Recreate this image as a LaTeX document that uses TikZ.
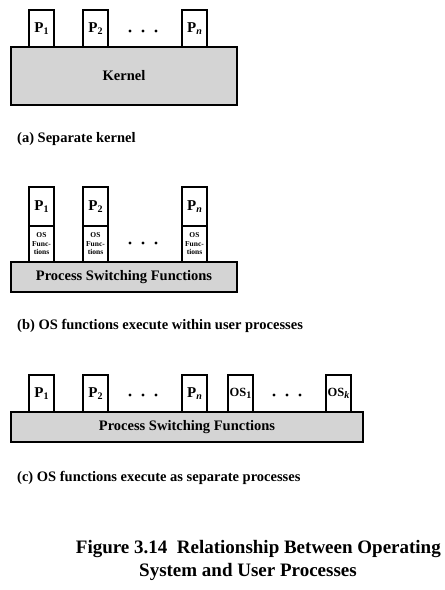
\documentclass[tikz,border=0pt]{standalone}
\usepackage{fontspec}
\setmainfont{Liberation Serif}
\newcommand{\psub}[1]{\raisebox{-0.35ex}{\fontsize{10}{10}\selectfont #1}}
\begin{document}
\begin{tikzpicture}[x=1pt,y=-1pt,
 pbox/.style={draw, line width=1.3pt, fill=white, minimum width=25pt, inner sep=0pt, font=\fontsize{15}{15}\selectfont\bfseries},
 osbox/.style={pbox, font=\fontsize{12.5}{13}\selectfont\bfseries},
 basebox/.style={draw, line width=2pt, fill=black!17, inner sep=0pt, font=\fontsize{14.5}{15}\selectfont\bfseries},
 osfun/.style={draw, line width=1.3pt, fill=white, minimum width=25pt, minimum height=36pt, inner sep=0pt, align=center, font=\fontsize{7.5}{8.5}\selectfont\bfseries},
 captext/.style={anchor=west, inner sep=0pt, font=\fontsize{14.5}{15}\selectfont\bfseries},
 figcap/.style={inner sep=0pt, font=\fontsize{19}{22}\selectfont\bfseries},
 dotmark/.style={circle, fill=black, inner sep=0pt, minimum size=3.4pt}]
\useasboundingbox (0,0) rectangle (445,590);
% (a)
\node[pbox, minimum height=37pt] (a1) at (41.5,28.5) {P\psub{1}};
\node[pbox, minimum height=37pt] (a2) at (95.5,28.5) {P\psub{2}};
\node[pbox, minimum height=37pt] (an) at (194.5,28.5) {P\psub{\itshape n}};
\node[basebox, minimum width=226pt, minimum height=58pt] (kern) at (124,76) {Kernel};
\node[dotmark] (ad1) at (130,31) {};
\node[dotmark] (ad2) at (143,31) {};
\node[dotmark] (ad3) at (156,31) {};
\node[captext] (capa) at (17,139) {(a) Separate kernel};
% (b)
\node[pbox, minimum height=39pt] (b1) at (41.5,206.5) {P\psub{1}};
\node[pbox, minimum height=39pt] (b2) at (95.5,206.5) {P\psub{2}};
\node[pbox, minimum height=39pt] (bn) at (194.5,206.5) {P\psub{\itshape n}};
\node[osfun] (bf1) at (41.5,244) {OS\\Func-\\tions};
\node[osfun] (bf2) at (95.5,244) {OS\\Func-\\tions};
\node[osfun] (bfn) at (194.5,244) {OS\\Func-\\tions};
\node[basebox, minimum width=226pt, minimum height=30pt] (psfb) at (124,277) {Process Switching Functions};
\node[dotmark] (bd1) at (130,243) {};
\node[dotmark] (bd2) at (143,243) {};
\node[dotmark] (bd3) at (156,243) {};
\node[captext] (capb) at (17,326) {(b) OS functions execute within user processes};
% (c)
\node[pbox, minimum height=37pt] (c1) at (41.5,393.5) {P\psub{1}};
\node[pbox, minimum height=37pt] (c2) at (95.5,393.5) {P\psub{2}};
\node[pbox, minimum height=37pt] (cn) at (194.5,393.5) {P\psub{\itshape n}};
\node[osbox, minimum height=37pt] (co1) at (240.5,393.5) {OS\psub{1}};
\node[osbox, minimum height=37pt] (cok) at (338.5,393.5) {OS\psub{\itshape k}};
\node[basebox, minimum width=352pt, minimum height=30pt] (psfc) at (187,427) {Process Switching Functions};
\node[dotmark] (cd1) at (130,395) {};
\node[dotmark] (cd2) at (143,395) {};
\node[dotmark] (cd3) at (156,395) {};
\node[dotmark] (cd4) at (274,395) {};
\node[dotmark] (cd5) at (287,395) {};
\node[dotmark] (cd6) at (300,395) {};
\node[captext] (capc) at (17,478) {(c) OS functions execute as separate processes};
% figure caption
\node[figcap, anchor=east] (fig1) at (441,549) {Figure 3.14\ \ Relationship Between Operating};
\node[figcap] (fig2) at (248,572) {System and User Processes};
\end{tikzpicture}
\end{document}
